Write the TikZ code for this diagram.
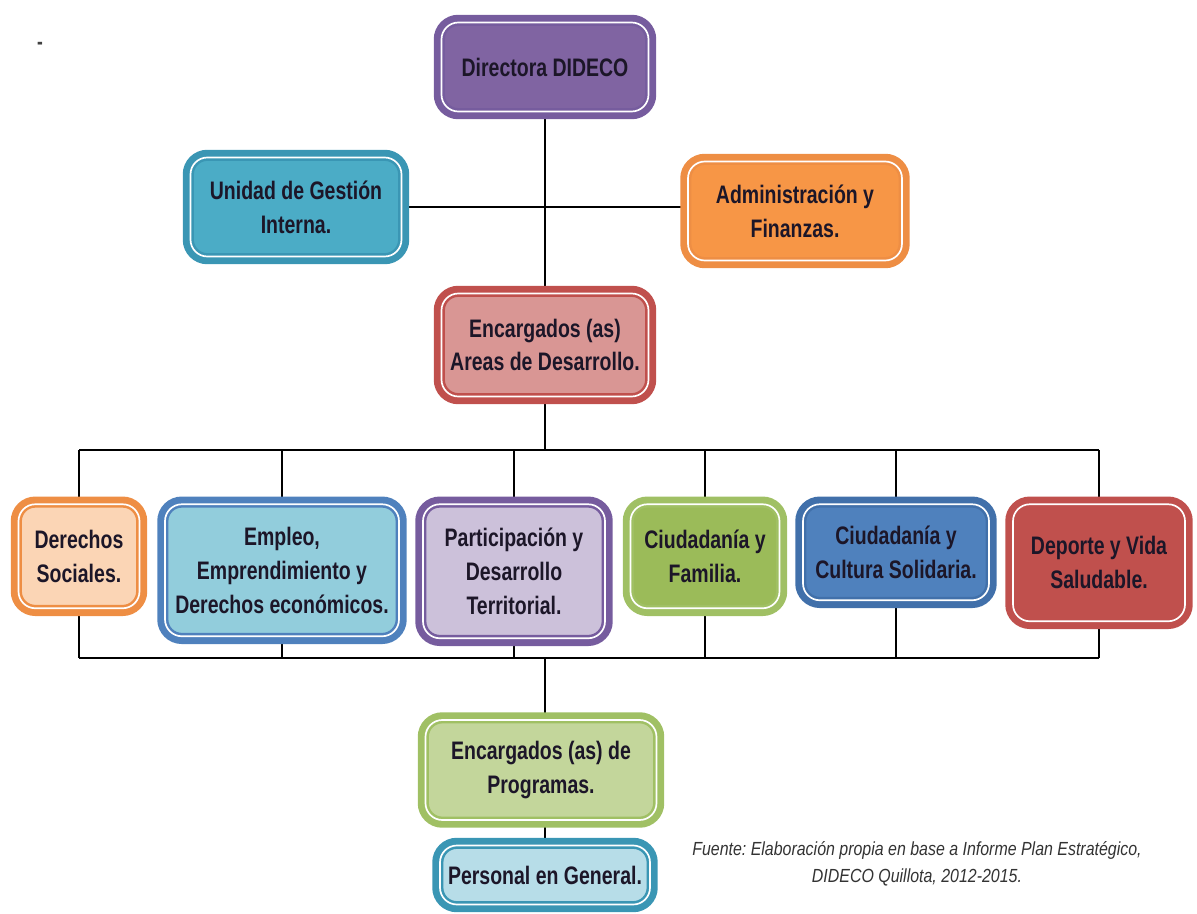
\documentclass[tikz,border=0pt]{standalone}
\usepackage{fontspec}
\usetikzlibrary{backgrounds}
\newfontfamily\boxfont[FakeStretch=0.77]{Liberation Sans}
\newfontfamily\notefont[FakeStretch=0.84]{Liberation Sans}
\frenchspacing

%Box colours (border / fill)
\definecolor{txtdark}{RGB}{28,22,40}
\definecolor{purB}{RGB}{118,92,158}  \definecolor{purF}{RGB}{128,100,162}
\definecolor{aquB}{RGB}{58,150,180}  \definecolor{aquF}{RGB}{75,172,198}
\definecolor{oraB}{RGB}{238,142,68}  \definecolor{oraF}{RGB}{247,150,70}
\definecolor{redB}{RGB}{192,80,77}   \definecolor{pinkF}{RGB}{217,150,148}
\definecolor{ltoraF}{RGB}{251,213,181}
\definecolor{bluB}{RGB}{79,129,189}  \definecolor{ltbluF}{RGB}{146,205,220}
\definecolor{ltpurF}{RGB}{204,193,218}
\definecolor{grnB}{RGB}{160,192,100} \definecolor{grnF}{RGB}{155,187,89}
\definecolor{bluF}{RGB}{79,129,189}  \definecolor{bluD}{RGB}{65,112,170}
\definecolor{redF}{RGB}{192,80,77}
\definecolor{ltgrnF}{RGB}{195,214,155}
\definecolor{ltaquF}{RGB}{183,221,232}

\begin{document}
\begin{tikzpicture}[x=0.025cm,y=-0.025cm,
	orgbox/.style 2 args={draw=#1,fill=#2,double=white,double distance=1.2pt,line width=1.8pt,
		rounded corners=12pt,preaction={draw=#1,line width=11pt},align=center,inner sep=0pt,
		text=txtdark,font=\boxfont\bfseries\fontsize{18}{24}\selectfont},
	boxsize/.style 2 args={minimum width=#1*0.025cm,minimum height=#2*0.025cm},
	wire/.style={line width=0.8pt,black}]
		
		\useasboundingbox (0,0) rectangle (1197,914);
		
		%Top of the chart
		\node [font=\boxfont\bfseries\fontsize{16}{16}\selectfont,text=black!75] (dash) at (40,46) {-};
		\node [orgbox={purB}{purF},boxsize={207}{89}] (dir) at (545,67) {Directora DIDECO};
		\node [orgbox={aquB}{aquF},boxsize={211}{99}] (ugi) at (296,207) {Unidad de Gestión\\Interna.};
		\node [orgbox={oraB}{oraF},boxsize={214}{99}] (adm) at (795,211) {Administración y\\Finanzas.};
		\node [orgbox={redB}{pinkF},boxsize={207}{103}] (enc) at (545,345) {Encargados (as)\\Areas de Desarrollo.};
		
		%Development areas
		\node [orgbox={oraB}{ltoraF},boxsize={121}{104},anchor=north] (ds) at (79,503) {Derechos\\Sociales.};
		\node [orgbox={bluB}{ltbluF},boxsize={234}{132},anchor=north] (emp) at (282,503) {Empleo,\\Emprendimiento y\\Derechos económicos.};
		\node [orgbox={purB}{ltpurF},boxsize={182}{134},anchor=north] (part) at (514,503) {Participación y\\Desarrollo\\Territorial.};
		\node [orgbox={grnB}{grnF},boxsize={149}{104},anchor=north] (fam) at (705,503) {Ciudadanía y\\Familia.};
		\node [orgbox={bluD}{bluF},boxsize={186}{96},anchor=north] (cult) at (896,503) {Ciudadanía y\\Cultura Solidaria.};
		\node [orgbox={redB}{redF},boxsize={172}{117},anchor=north] (dep) at (1099,503) {Deporte y Vida\\Saludable.};
		
		%Bottom of the chart
		\node [orgbox={grnB}{ltgrnF},boxsize={231}{100}] (prog) at (541,770) {Encargados (as) de\\Programas.};
		\node [orgbox={aquB}{ltaquF},boxsize={210}{59}] (pers) at (545,875) {Personal en General.};
		
		\node [align=center,text=black!80,font=\notefont\itshape\fontsize{13.5}{19}\selectfont] (src) at (917,864)
			{Fuente: Elaboración propia en base a Informe Plan Estratégico,\\DIDECO Quillota, 2012-2015.};
		
		%Marking bus coordinates
		\coordinate (busA) at (545,450);
		\coordinate (busB) at (545,658);
		
		%Drawing connectors
		\begin{scope}[on background layer]
			\draw [wire] (dir.south) -- (enc.north);
			\draw [wire] (ugi.east) -- (adm.west |- ugi.east);
			\draw [wire] (enc.south) -- (busA);
			\draw [wire] (ds.north |- busA) -- (dep.north |- busA);
			\draw [wire] (ds.south |- busB) -- (dep.south |- busB);
			\foreach \n in {ds,emp,part,fam,cult,dep}{
				\draw [wire] (\n.north) -- (\n.north |- busA);
				\draw [wire] (\n.south) -- (\n.south |- busB);
			}
			\draw [wire] (busB) -- (busB |- prog.north);
			\draw [wire] (prog.south -| pers.north) -- (pers.north);
		\end{scope}
	\end{tikzpicture}
\end{document}
